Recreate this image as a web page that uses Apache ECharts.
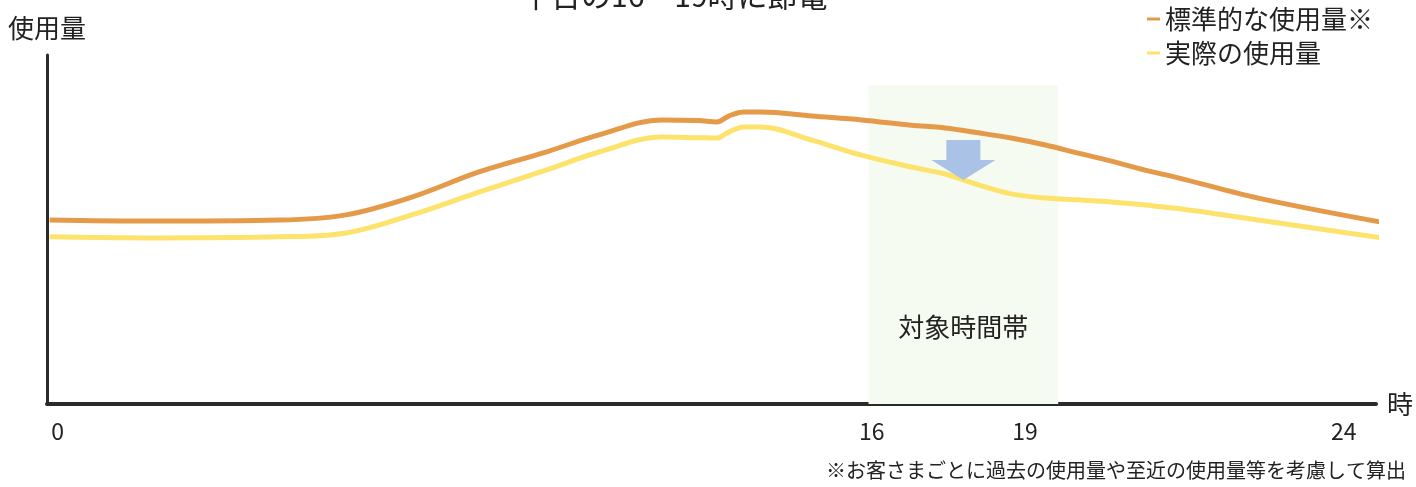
<!DOCTYPE html>
<html><head><meta charset="utf-8">
<script src="https://cdn.jsdelivr.net/npm/echarts@6/dist/echarts.min.js"></script>
<style>html,body{margin:0;padding:0;background:#fff}#c{width:1416px;height:487px}</style>
</head><body><div id="c"></div>
<script>
// schematic hour positions of the sampled points
const hours = [-0.15,1.71,4.14,5.38,6.61,7.86,9.11,10.10,11.27,11.96,12.30,12.52,12.80,13.14,14.07,15.00,15.93,16.56,17.18,17.79,18.43,19.04,19.66,20.29,20.91,22.40,24.70];
const standardUsage = [52.7,52.4,52.7,54.2,59.3,66.5,72.2,77.1,81.4,81.2,80.8,82.5,83.7,83.7,82.5,81.4,79.9,79.1,77.7,76.2,74.2,71.9,69.6,67.0,64.8,59.0,52.1];
const actualUsage   = [47.9,47.6,47.9,49.0,54.2,60.7,67.0,72.2,76.5,76.3,76.2,77.9,79.4,79.4,75.6,71.3,67.9,65.9,62.8,60.2,59.0,58.5,57.9,57.0,56.0,52.7,47.6];
const tickLabels = ['0','16','19','24'];
const seriesNames = ['標準的な使用量※','実際の使用量'];
const titleText = '平日の16～19時に節電';
const bandLabel = '対象時間帯';
const footnote = '※お客さまごとに過去の使用量や至近の使用量等を考慮して算出';

const tickPos = [0, 15.19, 18.05, 24];
const FONT = '"Noto Sans CJK JP", "Noto Sans", sans-serif';
const chart = echarts.init(document.getElementById('c'), null, {renderer:'canvas'});
const pair = arr => hours.map((h,i)=>[h, arr[i]]);
chart.setOption({
  animation:false,
  textStyle:{fontFamily:FONT},
  title:[
    {text:titleText,left:516,top:-24,textStyle:{fontSize:30,fontWeight:'normal',color:'#222',fontFamily:FONT}},
    {text:footnote,right:5,bottom:2,textStyle:{fontSize:20,fontWeight:'normal',color:'#222',fontFamily:FONT}}
  ],
  legend:{
    orient:'vertical',left:1142,top:1,itemGap:8,itemWidth:13,itemHeight:3,
    icon:'rect',
    textStyle:{fontSize:26,color:'#222',fontFamily:FONT,padding:[0,0,0,0]},
    data:seriesNames
  },
  grid:{left:47,right:38,top:55,bottom:83},
  xAxis:{
    type:'value',min:-0.2,max:24.6,
    name:'時',nameLocation:'end',nameGap:11,
    nameTextStyle:{fontSize:26,color:'#222',fontFamily:FONT},
    axisLine:{show:true,onZero:false,lineStyle:{color:'#2a2a2a',width:4}},
    axisTick:{show:false},
    splitLine:{show:false},
    axisLabel:{
      customValues:tickPos,margin:16,fontSize:23,color:'#222',fontFamily:FONT,
      formatter:v=>{const i=tickPos.findIndex(p=>Math.abs(p-v)<1e-6);return i>=0?tickLabels[i]:'';}
    }
  },
  yAxis:{
    type:'value',min:0,max:100,
    name:'使用量',nameLocation:'end',nameGap:14,
    nameTextStyle:{fontSize:26,color:'#222',fontFamily:FONT,verticalAlign:'bottom',align:'center'},
    axisLine:{show:true,onZero:false,lineStyle:{color:'#2a2a2a',width:3}},
    axisTick:{show:false},axisLabel:{show:false},splitLine:{show:false}
  },
  series:[
    {
      name:seriesNames[0],type:'line',data:pair(standardUsage),smooth:0.35,
      showSymbol:false,clip:false,z:3,
      lineStyle:{color:'#e59a4a',width:5},itemStyle:{color:'#e59a4a'},
      markArea:{
        silent:true,
        itemStyle:{color:'#f5fbf1'},
        label:{show:true,position:'insideBottom',distance:64,fontSize:26,color:'#222',fontFamily:FONT},
        data:[[{name:bandLabel,xAxis:15.13,yAxis:0},{xAxis:18.67,yAxis:91.4}]]
      },
      markPoint:{
        silent:true,
        symbol:'path://M15 0 L49 0 L49 20 L64 20 L32 40 L0 20 L15 20 Z',
        symbolSize:[64,40],
        itemStyle:{color:'#a9c2e6'},
        label:{show:false},
        data:[{coord:[16.9,69.9]}]
      }
    },
    {
      name:seriesNames[1],type:'line',data:pair(actualUsage),smooth:0.35,
      showSymbol:false,clip:false,z:3,
      lineStyle:{color:'#fde36c',width:5},itemStyle:{color:'#fde36c'}
    }
  ]
});
</script></body></html>
